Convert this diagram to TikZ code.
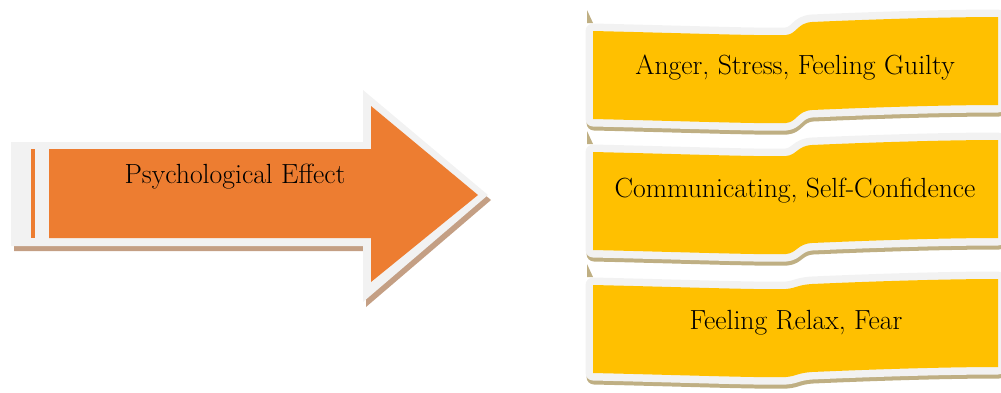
\documentclass[tikz,border=0pt]{standalone}
\usepackage{fontspec}
\setmainfont{Latin Modern Roman}
\definecolor{arroworange}{HTML}{ED7D31}
\definecolor{bannergold}{HTML}{FFC000}
\definecolor{rimgray}{HTML}{F2F2F2}
\definecolor{arrowshadow}{HTML}{C49F84}
\definecolor{bannershadow}{HTML}{BFAF83}
\newcommand\bannerpath[3]{(593,#1) .. controls (680,{#1+2}) and (765,{#1+5}) .. (786,{#1+4}) .. controls (797,{#1+3}) and (797,{#2+6}) .. (812,{#2+5}) .. controls (880,{#2+2}) and (950,{#2}) .. (998,#2) -- (998,{#2+#3}) .. controls (950,{#2+#3}) and (880,{#2+#3+2}) .. (812,{#2+#3+5}) .. controls (797,{#2+#3+6}) and (797,{#1+#3+3}) .. (786,{#1+#3+4}) .. controls (765,{#1+#3+5}) and (680,{#1+#3+2}) .. (593,{#1+#3}) -- cycle}
\newcommand\banner[3]{%
  \draw[bannershadow, fill=bannershadow, line width=15pt, line join=round, shift={(1,4)}] \bannerpath{#1}{#2}{#3};
  \draw[rimgray, line width=15pt, line join=round] \bannerpath{#1}{#2}{#3};
  \fill[bannergold] \bannerpath{#1}{#2}{#3};
  \fill[bannershadow] (587,{#1-21}) -- (587,{#1-8}) -- (593,{#1-8}) .. controls (590,{#1-14}) .. cycle;
}
\tikzset{
  label text/.style={anchor=base, inner sep=0pt, text=black, font=\fontsize{27.7}{32}\selectfont}
}
\begin{document}
\begin{tikzpicture}[x=1pt,y=-1pt]
\useasboundingbox (0,0) rectangle (1001,392);
\clip (0,0) rectangle (1001,392);
% arrow
\fill[arrowshadow, shift={(3,5)}] (11,142) -- (363,142) -- (363,90) -- (488,195) -- (363,302) -- (363,246) -- (11,246) -- cycle;
\fill[rimgray] (11,142) -- (363,142) -- (363,90) -- (488,195) -- (363,302) -- (363,246) -- (11,246) -- cycle;
\fill[arroworange] (49,149) -- (371,149) -- (371,106) -- (478,195) -- (371,282) -- (371,238) -- (49,238) -- cycle;
\fill[arroworange] (31,149) rectangle (35,238);
\node[label text] (psy) at (235,183) {Psychological Effect};
% banners
\banner{31}{17}{88}
\banner{152}{140}{98}
\banner{285}{279}{88}
\node[label text] (b1) at (795,74) {Anger, Stress, Feeling Guilty};
\node[label text] (b2) at (795,197) {Communicating, Self-Confidence};
\node[label text] (b3) at (796,329) {Feeling Relax, Fear};
\end{tikzpicture}
\end{document}
